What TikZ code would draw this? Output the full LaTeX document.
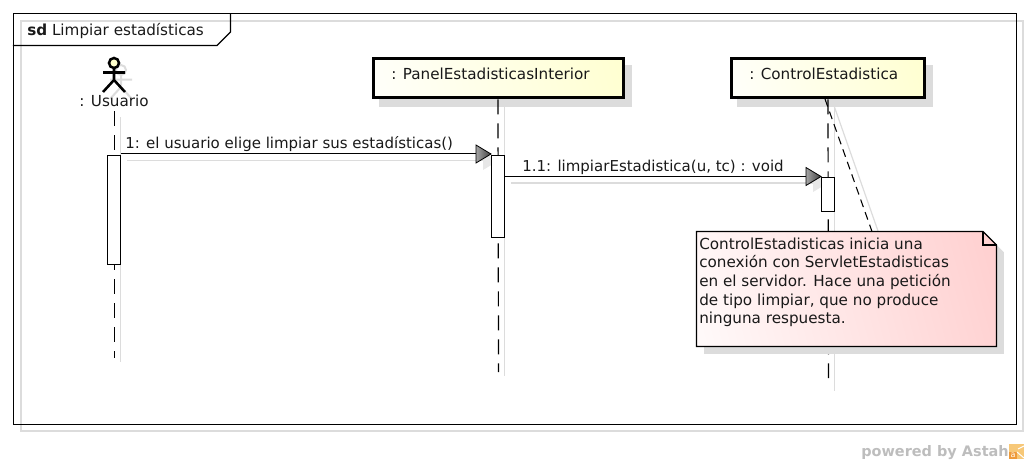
\documentclass[tikz,border=0pt]{standalone}
\usepackage{fontspec}
\setmainfont{DejaVu Sans}
\usepackage{xcolor}
\usetikzlibrary{positioning,shadings}
\definecolor{shadowgrey}{HTML}{DCDCDC}
\definecolor{headyellow}{HTML}{FFFFCC}
\definecolor{notepink}{HTML}{FFCACA}
\definecolor{footgrey}{HTML}{BDBDBD}
\definecolor{logoorange}{HTML}{F7C878}
\definecolor{logodark}{HTML}{EE9A3A}
\pgfdeclarehorizontalshading{notefade}{100bp}{color(0bp)=(white); color(12bp)=(white); color(88bp)=(notepink); color(100bp)=(notepink)}
\pgfdeclarehorizontalshading{headfade}{100bp}{color(0bp)=(white); color(12bp)=(white); color(88bp)=(headyellow); color(100bp)=(headyellow)}

\begin{document}
\begin{tikzpicture} [
    x = 0.75pt, y = -0.75pt,
    every node/.style = { font = \fontsize{11.4}{14}\selectfont, text = black!90 },
    shadowline/.style = { shadowgrey, line width = 0.9pt },
    lifeline/.style = { black, line width = 0.9pt, dash pattern = on 11.25pt off 6.75pt },
    headbox/.style = { draw = black, line width = 2.25pt, shading = headfade, shading angle = 15,
        minimum height = 29.25pt, inner sep = 0 },
    headshadow/.style = { fill = shadowgrey, draw = none },
    actbar/.style = { draw = black, fill = white, line width = 0.75pt, minimum width = 9.75pt, inner sep = 0, anchor = north },
    msgline/.style = { black, line width = 0.8pt },
    msghead/.style = { draw = black, line width = 0.6pt, left color = black!35, right color = black!75 },
    msgtext/.style = { inner sep = 0, anchor = base west, font = \fontsize{11.25}{14}\selectfont }
    ]

    \useasboundingbox (0,0) rectangle (1029,464);

    % frame
    \draw [shadowline] (21,21) rectangle (1023,431);
    \node (frame) [draw, black, line width = 0.8pt, fill = none, minimum width = 752.25pt, minimum height = 308.25pt, inner sep = 0] at (515,219) {};
    \draw [black, line width = 0.8pt] (frame.west |- 0,45.5) -- (217,45.5) -- (230.5,32) -- (230.5,13.5);
    \node (title) [inner sep = 0, anchor = base west] at (27,36) {\textbf{sd} Limpiar estadísticas};

    % shadows
    \fill [headshadow] (378.5,65) rectangle (631.5,106.5);
    \fill [headshadow] (736.5,65) rectangle (933,106.5);
    \draw [shadowline] (120.5,117) -- (120.5,362);
    \draw [shadowline] (504.5,106) -- (504.5,376);
    \draw [shadowline] (834.5,106) -- (834.5,391);
    \draw [shadowline] (127,160.5) -- (484,160.5);
    \draw [shadowline] (511,183) -- (814,183);
    \draw [shadowline] (832,100) -- (878,231);
    \fill [shadowgrey!70] (483,152) -- (498,161) -- (483,170) -- cycle;
    \fill [shadowgrey!70] (813,174) -- (828,183) -- (813,192) -- cycle;

    % actor
    \begin{scope} [shift = {(7,7)}, shadowgrey, line width = 1.5pt]
      \draw (114,63) circle (5);
      \draw (103,72.5) -- (125,72.5) (114,68) -- (114,80) -- (103,92) (114,80) -- (125,92);
    \end{scope}
    \begin{scope} [black, line width = 1.9pt]
      \draw [fill = headyellow] (114,63) circle (5);
      \draw (103,72.5) -- (125,72.5) (114,68) -- (114,80) -- (103,92) (114,80) -- (125,92);
    \end{scope}

    % lifelines
    \node (usuario) [inner sep = 0] at (114,101) {: Usuario};
    \node (panel) [headbox, minimum width = 187.5pt] at (498,78.3) {};
    \node (control) [headbox, minimum width = 144.75pt] at (828,78.3) {};
    \node [inner sep = 0, anchor = base west] at (391,79) {: PanelEstadisticasInterior};
    \node [inner sep = 0, anchor = base west] at (749,79) {: ControlEstadistica};

    \coordinate (usuarioEnd) at (114.5,358);
    \coordinate (panelEnd) at (498.5,372);
    \coordinate (controlEnd) at (828.5,378);
    \draw [lifeline] (114.5,111) -- (usuarioEnd);
    \draw [lifeline] (panel.south) -- (panelEnd);
    \draw [lifeline] (control.south) -- (controlEnd);

    % activations
    \node (actUsuario) [actbar, minimum height = 81.75pt] at (114,154.5) {};
    \node (actPanel) [actbar, minimum height = 61.5pt] at (498,154.5) {};
    \node (actControl) [actbar, minimum height = 25.5pt] at (828,176.5) {};

    % messages
    \draw [msgline] ([yshift = 0.75pt]actUsuario.north east) -- ([yshift = 0.75pt]actPanel.north west);
    \draw [msgline] (actPanel.east |- actControl.north) -- (actControl.north west);
    \shade [msghead] (476,145) -- (491,154) -- (476,163) -- cycle;
    \shade [msghead] (806,167.5) -- (821,176.5) -- (806,185.5) -- cycle;
    \node (msgUno) [msgtext] at (125,148.5) {1: el usuario elige limpiar sus estadísticas()};
    \node (msgDos) [msgtext] at (522,171) {1.1: limpiarEstadistica(u, tc) : void};

    % note
    \fill [shadowgrey] (703.5,252) -- (1003.5,252) -- (1003.5,353.5) -- (703.5,353.5) -- cycle;
    \coordinate (controlFoot) at (825,99);
    \coordinate (noteTop) at (872,231.5);
    \draw [black, line width = 0.8pt, dash pattern = on 6pt off 4pt] (controlFoot) -- (noteTop);
    \fill [shadowgrey] (720,238.5) -- (990,238.5) -- (1003.5,252) -- (703.5,252) -- cycle;
    \shadedraw [draw = black, line width = 0.9pt, shading = notefade, shading angle = 15]
      (696.5,231.5) -- (983,231.5) -- (996.5,245) -- (996.5,346.5) -- (696.5,346.5) -- cycle;
    \draw [black, line width = 0.9pt] (983,231.5) -- (983,245) -- (996.5,245);
    \node (note) [inner sep = 0, anchor = north west, align = left] at (699,237.5)
      {ControlEstadisticas inicia una\\conexión con ServletEstadisticas\\en el servidor. Hace una petición\\de tipo limpiar, que no produce\\ninguna respuesta.};

    % footer
    \node (powered) [inner sep = 0, anchor = base east, font = \fontsize{10.85}{14}\bfseries\selectfont, text = footgrey] at (1009,456) {powered by Astah};
    \fill [logoorange] (1009,444) rectangle (1024,459);
    \fill [logodark] (1009,452) rectangle (1017,459);
    \draw [white, line width = 0.7pt] (1017,452) -- (1024,458) (1018,449) -- (1024,446);
    \node (logoA) [inner sep = 0, font = \fontsize{6}{7}\selectfont, text = white] at (1013,455) {a};
  \end{tikzpicture}
\end{document}
